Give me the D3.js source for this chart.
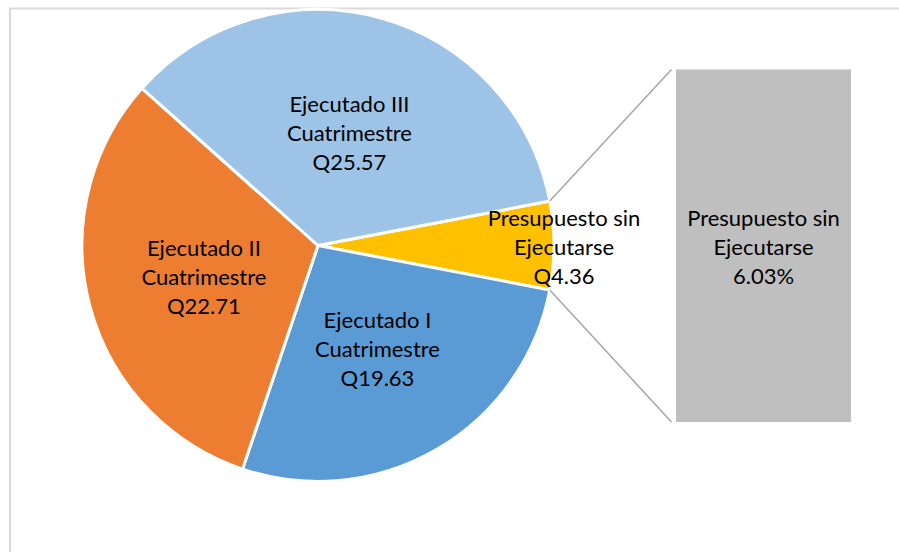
<!DOCTYPE html>
<html>
<head>
<meta charset="utf-8">
<script src="https://cdn.jsdelivr.net/npm/d3@7"></script>
<style>
  body { margin: 0; background: #fff; }
  text { font-family: Lato, "Open Sans", sans-serif; font-size: 22px; fill: #000; }
</style>
</head>
<body>
<div id="svg"></div>
<script>
// slices in drawing order (clockwise from the small one at 3 o'clock)
let categories = ['Presupuesto sin Ejecutarse', 'Ejecutado I Cuatrimestre', 'Ejecutado II Cuatrimestre', 'Ejecutado III Cuatrimestre'];
let labelLines = [['Presupuesto sin', 'Ejecutarse'], ['Ejecutado I', 'Cuatrimestre'], ['Ejecutado II', 'Cuatrimestre'], ['Ejecutado III', 'Cuatrimestre']];
let values = [4.36, 19.63, 22.71, 25.57];
let colors = ['#FFC000', '#5B9BD5', '#ED7D31', '#9DC3E6'];

function makeGraph(){
  let w = 899;
  let h = 552;
  let cx = 318, cy = 245.5, r = 236;

  let svg = d3.select('#svg').append('svg').attr('width', w).attr('height', h);

  // chart area border
  svg.append('rect')
    .attr('x', 10).attr('y', 8.5)
    .attr('width', w + 20).attr('height', h + 20)
    .style('fill', 'none')
    .style('stroke', '#D9D9D9')
    .style('stroke-width', 2);

  let total = d3.sum(values);
  let smallShare = values[0] / total;
  let smallAngle = smallShare * 2 * Math.PI;

  // rotate so the small slice sits centred on the right side
  let pie = d3.pie().sort(null)
    .startAngle(Math.PI / 2 - smallAngle / 2)
    .endAngle(Math.PI / 2 - smallAngle / 2 + 2 * Math.PI);
  let arcs = pie(values);

  let arc = d3.arc().innerRadius(0).outerRadius(r);
  let labelArc = d3.arc().innerRadius(118).outerRadius(118);
  let edgeArc = d3.arc().innerRadius(246).outerRadius(246);

  let g = svg.append('g').attr('transform', `translate(${cx}, ${cy})`);

  g.selectAll('path')
    .data(arcs)
    .enter()
      .append('path')
      .attr('d', arc)
      .style('fill', (d, i) => colors[i])
      .style('stroke', '#fff')
      .style('stroke-width', 3)
      .style('stroke-linejoin', 'round');

  // bar for the "other" part
  let barX = d3.scaleBand().domain(['otro']).range([676, 851]);
  let barY = d3.scaleLinear().domain([0, values[0]]).range([422, 69.5]);

  svg.append('rect')
    .attr('x', barX('otro'))
    .attr('y', barY(values[0]))
    .attr('width', barX.bandwidth())
    .attr('height', barY(0) - barY(values[0]))
    .style('fill', '#BFBFBF');

  // connector lines from slice edges to the bar
  let s = arcs[0];
  let p1 = [cx + r * Math.sin(s.startAngle), cy - r * Math.cos(s.startAngle)];
  let p2 = [cx + r * Math.sin(s.endAngle), cy - r * Math.cos(s.endAngle)];
  let joins = [[p1, [barX('otro') - 4.5, barY(values[0])]], [p2, [barX('otro') - 4.5, barY(0)]]];
  svg.selectAll('line.conn')
    .data(joins)
    .enter()
      .append('line')
      .attr('class', 'conn')
      .attr('x1', d => d[0][0]).attr('y1', d => d[0][1])
      .attr('x2', d => d[1][0]).attr('y2', d => d[1][1])
      .style('stroke', '#A6A6A6')
      .style('stroke-width', 1.5);

  // pie labels
  let lh = 29;
  arcs.forEach((d, i) => {
    let c = i === 0 ? edgeArc.centroid(d) : labelArc.centroid(d);
    let lines = labelLines[i].concat(['Q' + values[i].toFixed(2)]);
    let t = g.append('text')
      .attr('text-anchor', 'middle')
      .attr('transform', `translate(${c[0]}, ${c[1] + 2})`);
    lines.forEach((ln, k) => {
      t.append('tspan')
        .attr('x', 0)
        .attr('y', (k - 1) * lh)
        .attr('dy', '0.35em')
        .text(ln);
    });
  });

  // bar label
  let bl = labelLines[0].concat([(smallShare * 100).toFixed(2) + '%']);
  let bt = svg.append('text')
    .attr('text-anchor', 'middle')
    .attr('transform', `translate(${barX('otro') + barX.bandwidth() / 2}, ${(barY(0) + barY(values[0])) / 2 + 2})`);
  bl.forEach((ln, k) => {
    bt.append('tspan')
      .attr('x', 0)
      .attr('y', (k - 1) * lh)
      .attr('dy', '0.35em')
      .text(ln);
  });
}

window.onload = function(){
  makeGraph();
}
</script>
</body>
</html>
